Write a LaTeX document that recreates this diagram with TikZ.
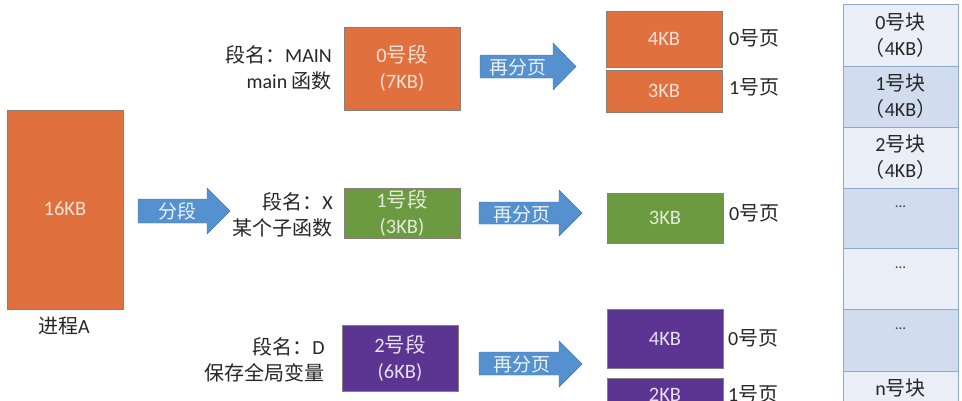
\documentclass[tikz,border=0pt]{standalone}
\usepackage{fontspec}
\setmainfont{Carlito}
\newfontfamily\cjk{Noto Sans CJK SC}
\definecolor{segorange}{HTML}{E1703F}
\definecolor{seggreen}{HTML}{6C9A40}
\definecolor{segpurple}{HTML}{5C3492}
\definecolor{arrowblue}{HTML}{5590CF}
\definecolor{rowlight}{HTML}{E9EEF7}
\definecolor{rowdark}{HTML}{D1DDEF}
\definecolor{rowline}{HTML}{8FA9CC}
\definecolor{boxline}{HTML}{8A7F78}
\newcommand{\fwparen}[1]{{\cjk （}#1{\cjk ）}}
\tikzset{
  x=1pt, y=-1pt,
  boxtxt/.style={font=\fontsize{20.5}{26}\selectfont, align=center, inner sep=0pt},
  lbltxt/.style={font=\fontsize{20}{26}\selectfont, align=right, inner sep=0pt, anchor=east, text=black!85},
  pagelbl/.style={font=\fontsize{20}{26}\selectfont, inner sep=0pt, anchor=west, text=black!85},
  blockarrow/.style={fill=arrowblue, draw=arrowblue!80!black, line width=0.4pt},
  arrtxt/.style={font=\cjk\fontsize{19}{20}\selectfont, text=white!88!arrowblue, inner sep=0pt},
  orangebox/.style={fill=segorange, draw=boxline, line width=0.6pt},
  greenbox/.style={fill=seggreen, draw=boxline, line width=0.6pt},
  purplebox/.style={fill=segpurple, draw=boxline, line width=0.6pt},
  rowL/.style={fill=rowlight, draw=rowline, line width=0.8pt},
  rowD/.style={fill=rowdark, draw=rowline, line width=0.8pt},
  coltxt/.style={font=\fontsize{20}{26}\selectfont, align=center, inner sep=0pt, text=black!85},
  dotstxt/.style={font=\fontsize{15}{16}\selectfont, inner sep=0pt, text=black!75},
}
\begin{document}
\begin{tikzpicture}
\useasboundingbox (0,0) rectangle (962,400);
\clip (0,0) rectangle (962,400);
\fill[white] (0,0) rectangle (962,400);

% process A
\draw[orangebox] (7,110) rectangle (123,309);
\node[boxtxt, text=white!80!segorange] (procA) at (65,209) {16KB};
\node[coltxt] (procAlbl) at (64,326) {{\cjk 进程}A};

% arrow 分段
\draw[blockarrow] (138,199) -- (207,199) -- (207,188) -- (230,211) -- (207,234) -- (207,223) -- (138,223) -- cycle;
\node[arrtxt] (fenduan) at (177,211) {分段};

% segment 0
\draw[orangebox] (344,27) rectangle (460,110);
\node[boxtxt, text=white!78!segorange] (seg0) at (402,68.5) {0{\cjk 号段}\\(7KB)};
\node[lbltxt] (seg0lbl) at (332,68) {{\cjk 段名：}MAIN\\main {\cjk 函数}};

% segment 1
\draw[greenbox] (344,188) rectangle (460,238);
\node[boxtxt, text=white!80!seggreen] (seg1) at (402,213) {1{\cjk 号段}\\(3KB)};
\node[lbltxt] (seg1lbl) at (333,215) {{\cjk 段名：}X\\{\cjk 某个子函数}};

% segment 2
\draw[purplebox] (342,325) rectangle (458,391);
\node[boxtxt, text=white!85!segpurple] (seg2) at (400,358) {2{\cjk 号段}\\(6KB)};
\node[lbltxt] (seg2lbl) at (325,360) {{\cjk 段名：}D\\{\cjk 保存全局变量}};

% arrows 再分页
\draw[blockarrow] (480,55) -- (553,55) -- (553,43) -- (576,66.5) -- (553,90) -- (553,78) -- (480,78) -- cycle;
\node[arrtxt] (rp0) at (518,67) {再分页};
\draw[blockarrow] (479,202) -- (559,202) -- (559,190) -- (582,213) -- (559,236) -- (559,224) -- (479,224) -- cycle;
\node[arrtxt] (rp1) at (522,214) {再分页};
\draw[blockarrow] (479,352) -- (559,352) -- (559,341) -- (582,364) -- (559,387) -- (559,375) -- (479,375) -- cycle;
\node[arrtxt] (rp2) at (522,364) {再分页};

% pages
\draw[orangebox] (606,11) rectangle (722,67);
\node[boxtxt, text=white!78!segorange] (p00) at (664,39) {4KB};
\draw[orangebox] (606,70) rectangle (722,112);
\node[boxtxt, text=white!78!segorange] (p01) at (664,91) {3KB};
\draw[greenbox] (607,193) rectangle (723,243);
\node[boxtxt, text=white!80!seggreen] (p10) at (665,218) {3KB};
\draw[purplebox] (607,309) rectangle (723,368);
\node[boxtxt, text=white!85!segpurple] (p20) at (665,338.5) {4KB};
\draw[purplebox] (607,378) rectangle (723,420);
\node[boxtxt, text=white!85!segpurple] (p21) at (665,395) {2KB};

\node[pagelbl] (l00) at (729,38) {0{\cjk 号页}};
\node[pagelbl] (l01) at (729,87) {1{\cjk 号页}};
\node[pagelbl] (l10) at (729,213) {0{\cjk 号页}};
\node[pagelbl] (l20) at (728,338) {0{\cjk 号页}};
\node[pagelbl] (l21) at (728,394) {1{\cjk 号页}};

% memory blocks
\draw[rowL] (843,4) rectangle (958,66);
\draw[rowD] (843,66) rectangle (958,127);
\draw[rowL] (843,127) rectangle (958,188);
\draw[rowD] (843,188) rectangle (958,248);
\draw[rowL] (843,248) rectangle (958,309);
\draw[rowD] (843,309) rectangle (958,371);
\draw[rowL] (843,371) rectangle (958,440);
\node[coltxt] (b0) at (900.5,35) {0{\cjk 号块}\\\fwparen{4KB}};
\node[coltxt] (b1) at (900.5,96) {1{\cjk 号块}\\\fwparen{4KB}};
\node[coltxt] (b2) at (900.5,157) {2{\cjk 号块}\\\fwparen{4KB}};
\node[dotstxt] (b3) at (900.5,207) {...};
\node[dotstxt] (b4) at (900.5,268) {...};
\node[dotstxt] (b5) at (900.5,329) {...};
\node[coltxt] (bn) at (900.5,388) {n{\cjk 号块}};
\end{tikzpicture}
\end{document}
